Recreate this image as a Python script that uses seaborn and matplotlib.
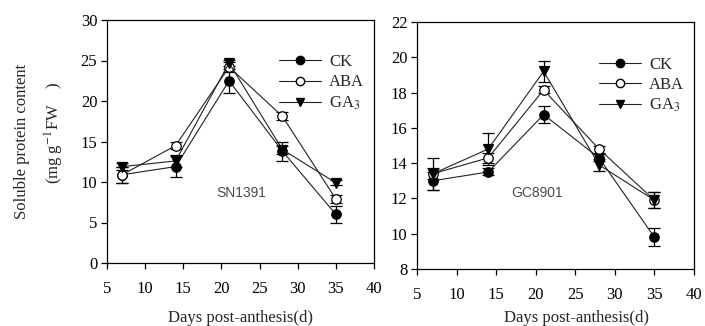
import matplotlib
matplotlib.use("Agg")
import matplotlib.pyplot as plt
import seaborn as sns
import pandas as pd
from matplotlib.lines import Line2D

# ---- data ----
days = [7, 14, 21, 28, 35]
treatments = ["CK", "ABA", "GA$_3$"]

sn_ck = [10.9, 11.9, 22.5, 13.8, 6.0]
sn_ck_err = [1.0, 1.3, 1.5, 1.2, 1.0]
sn_aba = [10.9, 14.5, 24.2, 18.1, 7.9]
sn_aba_err = [1.0, 0.4, 0.6, 0.5, 0.5]
sn_ga = [11.9, 12.6, 24.7, 14.0, 9.9]
sn_ga_err = [0.4, 0.7, 0.4, 0.5, 0.3]

gc_ck = [13.0, 13.5, 16.75, 14.3, 9.8]
gc_ck_err = [0.5, 0.2, 0.5, 0.2, 0.5]
gc_aba = [13.4, 14.3, 18.15, 14.8, 11.9]
gc_aba_err = [0.3, 0.3, 0.2, 0.2, 0.45]
gc_ga = [13.4, 14.8, 19.2, 13.9, 11.9]
gc_ga_err = [0.9, 0.9, 0.6, 0.35, 0.45]

left_yticks = [0, 5, 10, 15, 20, 25, 30]
right_yticks = [8, 10, 12, 14, 16, 18, 20, 22]
xticks = [5, 10, 15, 20, 25, 30, 35, 40]

sns.set_style("ticks")
plt.rcParams["font.family"] = ["Liberation Serif", "DejaVu Serif"]
plt.rcParams["mathtext.fontset"] = "stix"

fig = plt.figure(figsize=(7.05, 3.26), dpi=100)
W, H = 705, 326
def add_ax(x0, y0, x1, y1):
    return fig.add_axes([x0 / W, 1 - y1 / H, (x1 - x0) / W, (y1 - y0) / H])

ax1 = add_ax(107, 20, 374, 263)
ax2 = add_ax(417, 22, 694, 269)

styles = [
    dict(marker="o", mfc="black", mec="black"),
    dict(marker="o", mfc="white", mec="black"),
    dict(marker="v", mfc="black", mec="black"),
]

def draw(ax, series, errs):
    for name, vals, err, st in zip(treatments, series, errs, styles):
        df = pd.DataFrame({"day": days, "val": vals})
        ax.errorbar(days, vals, yerr=err, fmt="none", ecolor="black",
                    elinewidth=0.9, capsize=4, capthick=0.9, zorder=2)
        sns.lineplot(data=df, x="day", y="val", ax=ax, color="#222222",
                     linewidth=0.8, marker=st["marker"], markersize=6.8,
                     markerfacecolor=st["mfc"], markeredgecolor=st["mec"],
                     markeredgewidth=0.9, zorder=3)

draw(ax1, [sn_ck, sn_aba, sn_ga], [sn_ck_err, sn_aba_err, sn_ga_err])
draw(ax2, [gc_ck, gc_aba, gc_ga], [gc_ck_err, gc_aba_err, gc_ga_err])

for ax, yt in [(ax1, left_yticks), (ax2, right_yticks)]:
    ax.set_xlim(5, 40)
    ax.set_ylim(yt[0], yt[-1])
    ax.set_xticks(xticks)
    ax.set_yticks(yt)
    ax.set_xlabel("")
    ax.set_ylabel("")
    for s in ax.spines.values():
        s.set_visible(True)
        s.set_linewidth(0.9)
        s.set_color("black")
    ax.tick_params(axis="both", direction="out", length=4, width=0.9,
                   labelsize=12, colors="black")
    ax.tick_params(axis="x", pad=9)
    ax.tick_params(axis="y", pad=3)

    handles = [Line2D([], [], color="#222222", linewidth=0.8,
                      marker=st["marker"], markersize=6,
                      markerfacecolor=st["mfc"], markeredgecolor=st["mec"])
               for st in styles]
    ax.legend(handles, treatments, frameon=False, fontsize=12,
              handlelength=2.5, handletextpad=0.5, labelspacing=0.25,
              loc="upper right", bbox_to_anchor=(1.0, 0.9), borderaxespad=0.2)

ax1.text(22.6, 8.6, "SN1391", ha="center", va="center", fontsize=10,
         color="#4a4a4a", family=["Liberation Sans", "DejaVu Sans"])
ax2.text(20.2, 12.3, "GC8901", ha="center", va="center", fontsize=10,
         color="#4a4a4a", family=["Liberation Sans", "DejaVu Sans"])

fig.text(240 / W, 1 - 318 / H, "Days post-anthesis(d)", ha="center",
         va="center", fontsize=12)
fig.text(576 / W, 1 - 318 / H, "Days post-anthesis(d)", ha="center",
         va="center", fontsize=12)
fig.text(22 / W, 1 - 141 / H, "Soluble protein content", rotation=90,
         ha="center", va="center", fontsize=12)
fig.text(54 / W, 1 - 133 / H, r"(mg g$^{-1}$FW    )", rotation=90,
         ha="center", va="center", fontsize=12)

fig.savefig("out.png", dpi=100)
